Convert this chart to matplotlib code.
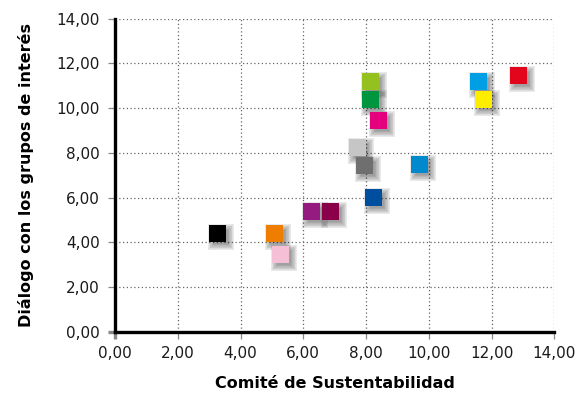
import matplotlib
matplotlib.use("Agg")
import matplotlib.pyplot as plt
import matplotlib.transforms as mtransforms
from matplotlib.ticker import FixedLocator, FuncFormatter

# Puntuación de cada grupo: Comité de Sustentabilidad (x) y Diálogo con los grupos de interés (y)
comite = [3.27, 5.08, 5.27, 6.26, 6.87, 7.73, 7.95, 8.14, 8.14, 8.24, 8.40, 9.70, 11.58, 11.74, 12.86]
dialogo = [4.40, 4.40, 3.46, 5.38, 5.38, 8.24, 7.43, 11.17, 10.39, 6.00, 9.44, 7.48, 11.18, 10.38, 11.45]
colores = ["#000000", "#EF7D00", "#F5BFD6", "#951B81", "#8A0049", "#C6C6C6", "#706F6F",
           "#95C11F", "#009640", "#004F9F", "#E5007D", "#0089CC", "#009FE3", "#FFED00", "#E3051B"]

ticks = [0, 2, 4, 6, 8, 10, 12, 14]
etiqueta_x = "Comité de Sustentabilidad"
etiqueta_y = "Diálogo con los grupos de interés"

plt.rcParams["font.family"] = ["DejaVu Sans"]

fig = plt.figure(figsize=(5.83, 3.94), dpi=100)
ax = fig.add_axes([0.1973, 0.1574, 0.9508 - 0.1973, 0.953 - 0.1574])
ax.set_xlim(0, 14)
ax.set_ylim(0, 14)

fmt = FuncFormatter(lambda v, p: f"{v:.2f}".replace(".", ","))
ax.xaxis.set_major_locator(FixedLocator(ticks))
ax.yaxis.set_major_locator(FixedLocator(ticks))
ax.xaxis.set_major_formatter(fmt)
ax.yaxis.set_major_formatter(fmt)

ax.grid(True, color="#666666", linestyle=(0, (1, 2.0)), linewidth=0.9)
ax.set_axisbelow(True)
for s in ("top", "right"):
    ax.spines[s].set_visible(False)
for s in ("left", "bottom"):
    ax.spines[s].set_linewidth(2.4)
    ax.spines[s].set_color("black")
    ax.spines[s].set_zorder(5)

ax.tick_params(axis="both", length=5, width=0.9, color="#888888",
               labelsize=11, labelcolor="#1a1a1a")
ax.tick_params(axis="x", pad=5)
ax.tick_params(axis="y", pad=6)
for t in (ax.xaxis.get_major_ticks()[0], ax.yaxis.get_major_ticks()[0]):
    t.tick1line.set_color("black")
    t.tick1line.set_markeredgewidth(2.4)

# Sombra difusa desplazada hacia abajo a la derecha
side = 12.2
shadow_tr = mtransforms.offset_copy(ax.transData, fig=fig, x=3.5, y=-3.5, units="dots")
for k in [7, 6, 5, 4, 3, 2, 1, 0, -1, -2]:
    ax.scatter(comite, dialogo, s=(side + k) ** 2, marker="s", color="#000000",
               alpha=0.045, linewidths=0, transform=shadow_tr, zorder=3)

ax.scatter(comite, dialogo, s=side ** 2, marker="s", c=colores, linewidths=0, zorder=4)

ax.set_xlabel(etiqueta_x, fontsize=11.5, fontweight="bold", labelpad=11)
ax.set_ylabel(etiqueta_y, fontsize=11.5, fontweight="bold", labelpad=16)

fig.savefig("out.png", dpi=100)
